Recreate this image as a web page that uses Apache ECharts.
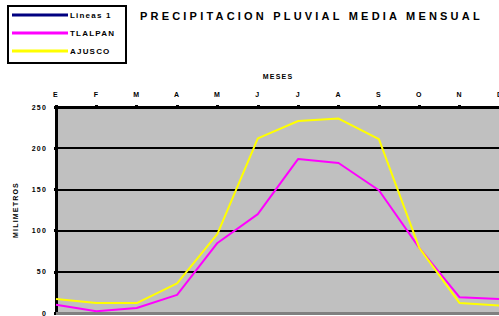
<!DOCTYPE html>
<html>
<head>
<meta charset="utf-8">
<script src="https://cdn.jsdelivr.net/npm/echarts@6/dist/echarts.min.js"></script>
<style>
  html, body { margin: 0; padding: 0; background: #fff; }
  #main { width: 499px; height: 316px; }
  /* el original tiene letras espaciadas */
  #main text { letter-spacing: 1.2px; }
</style>
</head>
<body>
<div id="main"></div>
<script>
// meses del año
var meses = ["E", "F", "M", "A", "M", "J", "J", "A", "S", "O", "N", "D"];
// precipitacion (mm)
var lineas1 = [];
var tlalpan = [10, 2, 6, 22, 85, 120, 187, 182, 149, 79, 19, 17];
var ajusco = [17, 12, 12, 36, 96, 212, 233, 236, 211, 79, 12, 9];
var yTicks = [0, 50, 100, 150, 200, 250];

var titulo = "PRECIPITACION PLUVIAL MEDIA MENSUAL";
var chart = echarts.init(document.getElementById("main"), null, { renderer: "svg" });
var font = "Liberation Sans";

chart.setOption({
  animation: false,
  textStyle: { fontFamily: font },
  title: {
    text: titulo,
    left: 135,
    top: 5,
    textStyle: { fontFamily: font, fontSize: 11, fontWeight: "bold", color: "#000" }
  },
  graphic: [
    {
      type: "rect",
      left: 7, top: 5, z: 0,
      shape: { width: 118, height: 57 },
      style: { fill: "#fff", stroke: "#000", lineWidth: 2 }
    }
  ],
  legend: {
    orient: "vertical",
    left: 7,
    top: 6,
    z: 10,
    icon: "rect",
    itemWidth: 56,
    itemHeight: 3,
    itemGap: 10,
    textStyle: { fontSize: 8, fontWeight: "bold", color: "#000", padding: [0, 0, 0, -3] },
    data: ["Lineas 1", "TLALPAN", "AJUSCO"]
  },
  grid: {
    left: 56,
    top: 107,
    width: 444,
    height: 206,
    outerBoundsMode: "none",
    show: true,
    backgroundColor: "#c0c0c0",
    borderWidth: 0
  },
  xAxis: [
    {
      type: "category",
      position: "top",
      boundaryGap: false,
      data: meses,
      name: "MESES",
      nameLocation: "middle",
      nameGap: 27,
      nameTextStyle: { fontSize: 7, fontWeight: "bold", color: "#000" },
      axisLine: { onZero: false, lineStyle: { color: "#000", width: 3 } },
      axisTick: { length: 2, lineStyle: { color: "#000", width: 3 } },
      axisLabel: { margin: 9, fontSize: 7, fontWeight: "bold", color: "#000" },
      splitLine: { show: false }
    },
    {
      // borde inferior gris
      type: "category",
      position: "bottom",
      boundaryGap: false,
      data: meses,
      axisLine: { onZero: false, lineStyle: { color: "#808080", width: 3 } },
      axisTick: { show: false },
      axisLabel: { show: false },
      splitLine: { show: false }
    }
  ],
  yAxis: {
    type: "value",
    min: yTicks[0],
    max: yTicks[yTicks.length - 1],
    interval: 50,
    name: "MILIMETROS",
    nameLocation: "middle",
    nameRotate: 90,
    nameGap: 37,
    nameTextStyle: { fontSize: 7, fontWeight: "bold", color: "#000" },
    axisLine: { show: true, onZero: false, lineStyle: { color: "#000", width: 3 } },
    axisTick: { show: true, length: 2, lineStyle: { color: "#000", width: 3 } },
    axisLabel: { margin: 9, fontSize: 7, fontWeight: "bold", color: "#000" },
    splitLine: { lineStyle: { color: "#000", width: 2 } }
  },
  series: [
    {
      name: "Lineas 1",
      type: "line",
      data: lineas1,
      showSymbol: false,
      itemStyle: { color: "#000080" },
      lineStyle: { color: "#000080", width: 2 }
    },
    {
      name: "TLALPAN",
      type: "line",
      data: tlalpan,
      showSymbol: false,
      itemStyle: { color: "#ff00ff" },
      lineStyle: { color: "#ff00ff", width: 2 }
    },
    {
      name: "AJUSCO",
      type: "line",
      data: ajusco,
      showSymbol: false,
      itemStyle: { color: "#ffff00" },
      lineStyle: { color: "#ffff00", width: 2 }
    }
  ]
});

// el titulo va mas espaciado
chart.getDom().querySelectorAll("text").forEach(function (t) {
  if (t.textContent === titulo) t.style.letterSpacing = "3.2px";
});
</script>
</body>
</html>
